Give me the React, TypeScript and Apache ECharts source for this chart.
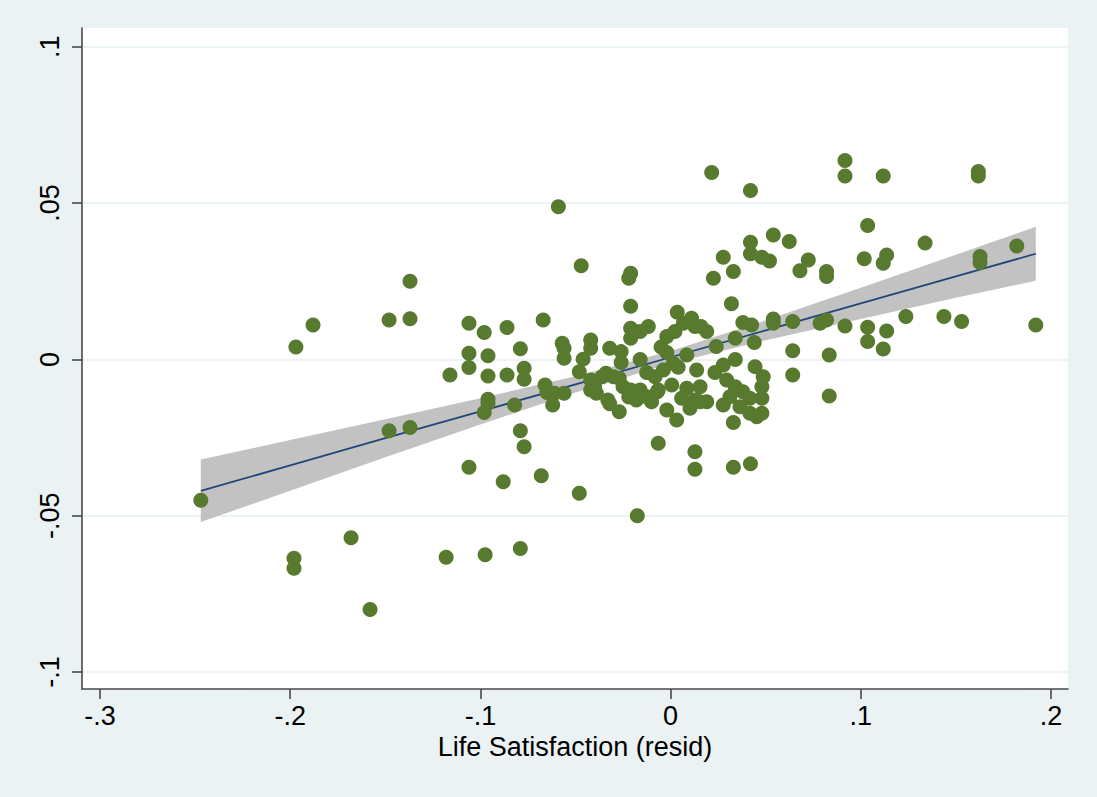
import React, { useEffect, useRef } from "react";
import * as echarts from "echarts";

const xTicks = [-0.3, -0.2, -0.1, 0, 0.1, 0.2];
const xTickLabels = ["-.3", "-.2", "-.1", "0", ".1", ".2"];
const yTicks = [-0.1, -0.05, 0, 0.05, 0.1];
const yTickLabels = ["-.1", "-.05", "0", ".05", ".1"];
const xTitle = "Life Satisfaction (resid)";

const points: number[][] = [
  [-0.247, -0.045], [-0.197, 0.004], [-0.188, 0.011], [-0.148, 0.0126], [-0.137, 0.013],
  [-0.137, 0.025], [-0.116, -0.005], [-0.148, -0.0228], [-0.137, -0.0218], [-0.168, -0.057],
  [-0.198, -0.0636], [-0.198, -0.0668], [-0.158, -0.08], [-0.118, -0.0633],
  [-0.047, 0.03], [-0.021, 0.0276], [-0.022, 0.026], [-0.021, 0.017], [-0.106, 0.0116],
  [-0.098, 0.0086], [-0.086, 0.0102], [-0.067, 0.0126], [-0.079, 0.0034], [-0.106, 0.002],
  [-0.096, 0.0012], [-0.106, -0.0026], [-0.096, -0.0053], [-0.086, -0.005], [-0.077, -0.0028],
  [-0.077, -0.0063], [-0.057, 0.0052], [-0.056, 0.0036], [-0.056, 0.0004], [-0.042, 0.0062],
  [-0.042, 0.0036], [-0.046, 0.0001], [-0.048, -0.0039], [-0.032, 0.0036], [-0.026, 0.0025],
  [-0.026, -0.001], [-0.021, 0.01], [-0.021, 0.0068], [-0.042, -0.0066], [-0.042, -0.0098],
  [-0.039, -0.0108], [-0.034, -0.0044], [-0.03, -0.0055], [-0.027, -0.006], [-0.025, -0.0087],
  [-0.021, -0.0098], [-0.018, -0.013], [-0.032, -0.0142], [-0.027, -0.0167], [-0.066, -0.0082],
  [-0.065, -0.0106], [-0.061, -0.0108], [-0.056, -0.0108], [-0.062, -0.0146], [-0.096, -0.0127],
  [-0.096, -0.014], [-0.098, -0.017], [-0.082, -0.0146], [-0.079, -0.0228], [-0.077, -0.0279],
  [-0.106, -0.0345], [-0.088, -0.0391], [-0.068, -0.0372], [-0.048, -0.0428], [-0.0175, -0.05],
  [-0.0975, -0.0625], [-0.079, -0.0605], [-0.059, 0.0488], [-0.04, -0.0087], [-0.022, -0.012],
  [-0.01, -0.0135], [-0.036, -0.0055], [-0.007, -0.0103], [-0.033, -0.013], [0.004, -0.0025],
  [0.0155, -0.0135], [-0.005, 0.004], [0.016, 0.0105],
  [0.0216, 0.0598], [0.042, 0.054], [0.0917, 0.0636], [0.0917, 0.0587], [0.0277, 0.0327],
  [0.0225, 0.026], [0.033, 0.0281], [0.042, 0.0375], [0.042, 0.0338], [0.048, 0.0327],
  [0.052, 0.0315], [0.054, 0.0398], [0.0624, 0.0377], [0.0724, 0.0318], [0.068, 0.0284],
  [0.082, 0.0281], [0.082, 0.0265], [0.032, 0.0178], [0.0035, 0.0151], [-0.0117, 0.0105],
  [-0.016, 0.0089], [-0.002, 0.0073], [0.0023, 0.0089], [0.0067, 0.0116], [0.011, 0.0132],
  [0.0128, 0.0105], [0.019, 0.0089], [0.038, 0.0118], [0.0426, 0.011], [0.054, 0.0129],
  [0.054, 0.0116], [0.0642, 0.0121], [0.0786, 0.0116], [0.082, 0.0126], [0.034, 0.0068],
  [0.024, 0.0041], [0.044, 0.0054], [-0.002, 0.0022], [0.0085, 0.0014], [-0.016, 0.0],
  [0.0642, 0.0028], [0.0642, -0.005], [0.0834, 0.0014], [0.0834, -0.0117], [0.034, 0.0],
  [0.0277, -0.0018], [0.0233, -0.0042], [0.0137, -0.0034], [0.0014, -0.0012], [-0.0038, -0.0034],
  [-0.0082, -0.0055], [-0.0126, -0.0042], [0.0444, -0.0023], [0.0487, -0.0055], [0.048, -0.0087],
  [0.048, -0.0124], [0.048, -0.0172], [0.0295, -0.0066], [0.034, -0.0087], [0.038, -0.0103],
  [0.0417, -0.0124], [0.0312, -0.0119], [0.0277, -0.0146], [0.0365, -0.0151], [0.0417, -0.0172],
  [0.0453, -0.0183], [0.033, -0.0202], [0.0085, -0.0092], [0.0058, -0.0124], [0.0102, -0.0156],
  [0.0155, -0.0087], [0.019, -0.0135], [0.0128, -0.013], [0.0006, -0.0082], [-0.0065, -0.0098],
  [-0.0126, -0.0119], [-0.016, -0.0098], [-0.002, -0.0162], [0.0032, -0.0194], [-0.0065, -0.0268],
  [0.0128, -0.0295], [0.0128, -0.0351], [0.033, -0.0345], [0.042, -0.0334],
  [0.1118, 0.0587], [0.1618, 0.0601], [0.1618, 0.0587], [0.1036, 0.0428], [0.1338, 0.0372],
  [0.182, 0.0363], [0.1018, 0.0322], [0.1136, 0.0334], [0.1118, 0.0308], [0.1627, 0.0329],
  [0.1627, 0.031], [0.0917, 0.0107], [0.1036, 0.0103], [0.1036, 0.0057], [0.1136, 0.0091],
  [0.1118, 0.0033], [0.1237, 0.0137], [0.1437, 0.0137], [0.153, 0.0121], [0.192, 0.011],
];

const fitX = [-0.247, -0.2, -0.15, -0.1, -0.05, 0, 0.05, 0.1, 0.15, 0.192];
const fitY = [-0.042, -0.0339, -0.0252, -0.0166, -0.008, 0.0007, 0.0093, 0.0179, 0.0266, 0.0338];
const ciUpper = [-0.032, -0.0258, -0.0191, -0.0124, -0.0054, 0.0027, 0.0125, 0.0229, 0.0335, 0.0424];
const ciLower = [-0.052, -0.042, -0.0313, -0.0208, -0.0106, -0.0013, 0.0061, 0.0129, 0.0197, 0.0252];

const FONT = "Liberation Sans, Arial, Helvetica, sans-serif";
const AXIS_COLOR = "#4a4a4a";

function fmt(ticks: number[], labels: string[]) {
  return (v: number) => {
    for (let i = 0; i < ticks.length; i++) {
      if (Math.abs(ticks[i] - v) < 1e-9) return labels[i];
    }
    return "";
  };
}

export default function App() {
  const ref = useRef<HTMLDivElement>(null);
  useEffect(() => {
    if (!ref.current) return;
    const chart = echarts.init(ref.current, null, { renderer: "svg" });
    const option: any = {
      animation: false,
      backgroundColor: "#eaf2f3",
      grid: {
        left: 82,
        top: 28,
        right: 29,
        bottom: 108,
        show: true,
        backgroundColor: "#ffffff",
        borderWidth: 0,
      },
      xAxis: {
        type: "value",
        min: -0.30946,
        max: 0.20894,
        name: xTitle,
        nameLocation: "middle",
        nameGap: 43,
        nameTextStyle: { fontFamily: FONT, fontSize: 27, color: "#000" },
        axisLine: { show: true, onZero: false, lineStyle: { color: AXIS_COLOR, width: 1.6 } },
        axisTick: {
          show: true,
          length: 10,
          customValues: xTicks,
          lineStyle: { color: AXIS_COLOR, width: 1.6 },
        },
        axisLabel: {
          customValues: xTicks,
          formatter: fmt(xTicks, xTickLabels),
          fontFamily: FONT,
          fontSize: 27,
          color: "#000",
          margin: 13,
        },
        splitLine: { show: false },
      },
      yAxis: {
        type: "value",
        min: -0.1054,
        max: 0.106,
        axisLine: { show: true, onZero: false, lineStyle: { color: AXIS_COLOR, width: 1.6 } },
        axisTick: {
          show: true,
          length: 10,
          customValues: yTicks,
          lineStyle: { color: AXIS_COLOR, width: 1.6 },
        },
        axisLabel: {
          customValues: yTicks,
          formatter: fmt(yTicks, yTickLabels),
          rotate: 90,
          fontFamily: FONT,
          fontSize: 27,
          color: "#000",
          margin: 19,
        },
        splitLine: { show: true, lineStyle: { color: "#e6eff1", width: 1.6 } },
      },
      series: [
        {
          type: "custom",
          silent: true,
          z: 1,
          clip: false,
          data: [[fitX[0], ciLower[0]]],
          renderItem: (_params: any, api: any) => {
            const pts: number[][] = [];
            for (let i = 0; i < fitX.length; i++) pts.push(api.coord([fitX[i], ciUpper[i]]));
            for (let i = fitX.length - 1; i >= 0; i--) pts.push(api.coord([fitX[i], ciLower[i]]));
            return {
              type: "polygon",
              shape: { points: pts, smooth: 0 },
              style: { fill: "#c2c2c2", stroke: "none" },
            };
          },
        },
        {
          type: "line",
          z: 2,
          silent: true,
          symbol: "none",
          data: fitX.map((x, i) => [x, fitY[i]]),
          lineStyle: { color: "#1f4677", width: 1.8 },
        },
        {
          type: "scatter",
          z: 3,
          symbol: "circle",
          symbolSize: 15,
          data: points,
          itemStyle: { color: "#577a2f", opacity: 1 },
        },
      ],
    };
    chart.setOption(option);
    return () => chart.dispose();
  }, []);
  return (
    <div
      ref={ref}
      style={{ position: "absolute", left: 0, top: 0, width: 1097, height: 797 }}
    />
  );
}
